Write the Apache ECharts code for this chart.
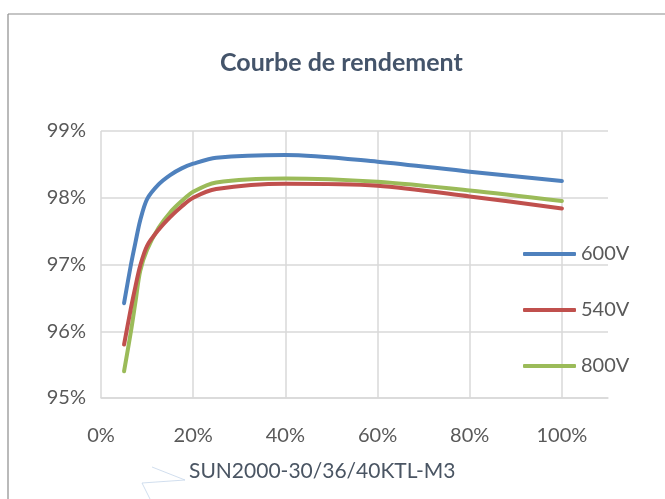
<!DOCTYPE html>
<html>
<head>
<meta charset="utf-8">
<script src="https://cdn.jsdelivr.net/npm/echarts@6/dist/echarts.min.js"></script>
<style>
html,body{margin:0;padding:0;background:#fff;}
#chart{width:665px;height:499px;}
</style>
</head>
<body>
<div id="chart"></div>
<script>
// Load (% of rated power)
const loadPct = [5, 6.5, 7.5, 8.5, 10, 12.5, 15, 17.5, 20, 25, 40, 60, 80, 100];
// Efficiency (%) per DC voltage
const eff600V = [96.42, 97.00, 97.34, 97.66, 97.98, 98.20, 98.34, 98.44, 98.51, 98.60, 98.64, 98.54, 98.39, 98.25];
const eff540V = [95.80, 96.35, 96.68, 96.98, 97.28, 97.52, 97.71, 97.87, 98.00, 98.13, 98.21, 98.18, 98.02, 97.84];
const eff800V = [95.40, 96.00, 96.45, 96.90, 97.22, 97.55, 97.78, 97.95, 98.09, 98.23, 98.29, 98.24, 98.11, 97.95];
const seriesNames = ['600V', '540V', '800V'];
const xTicks = [0, 20, 40, 60, 80, 100];
const yTicks = [95, 96, 97, 98, 99];
const titleText = 'Courbe de rendement';
const footText = 'SUN2000-30/36/40KTL-M3';

const colors = ['#4F81BD', '#C0504D', '#9BBB59'];
const FONT = 'Lato';
const pairs = (ys) => loadPct.map((x, i) => [x, ys[i]]);
const allSeries = [eff600V, eff540V, eff800V];

const chart = echarts.init(document.getElementById('chart'));
chart.setOption({
  animation: false,
  backgroundColor: '#fff',
  color: colors,
  title: {
    text: titleText,
    left: 220,
    top: 50,
    padding: 0,
    textStyle: {fontFamily: FONT, fontSize: 25, fontWeight: 'bold', color: '#44546A'}
  },
  grid: {left: 101, top: 131, right: 57, bottom: 101, containLabel: false},
  legend: {
    orient: 'vertical',
    left: 518,
    top: 239,
    icon: 'roundRect',
    itemWidth: 53,
    itemHeight: 4,
    itemGap: 36,
    textStyle: {fontFamily: FONT, fontSize: 20, color: '#595959'},
    data: seriesNames
  },
  xAxis: {
    type: 'value',
    min: 0,
    max: 110,
    interval: 20,
    axisLine: {show: true, lineStyle: {color: '#D9D9D9', width: 1.5}},
    axisTick: {show: false},
    axisLabel: {
      showMaxLabel: false,
      margin: 28,
      fontFamily: FONT, fontSize: 20, color: '#595959',
      formatter: (v) => xTicks.indexOf(v) >= 0 ? v + '%' : ''
    },
    splitLine: {show: true, showMaxLine: false, lineStyle: {color: '#D9D9D9', width: 1.5}}
  },
  yAxis: {
    type: 'value',
    min: 95,
    max: 99,
    interval: 1,
    axisLine: {show: false},
    axisTick: {show: false},
    axisLabel: {
      margin: 15,
      fontFamily: FONT, fontSize: 20, color: '#595959',
      formatter: (v) => yTicks.indexOf(v) >= 0 ? v + '%' : ''
    },
    splitLine: {show: true, lineStyle: {color: '#D9D9D9', width: 1.5}}
  },
  graphic: [
    {type: 'line', shape: {x1: 8, y1: 14, x2: 665, y2: 14}, style: {stroke: '#8C8C8C', lineWidth: 1.2}},
    {type: 'line', shape: {x1: 8, y1: 14, x2: 8, y2: 499}, style: {stroke: '#8C8C8C', lineWidth: 1.2}},
    {type: 'text', left: 189, top: 461, style: {text: footText, font: '21px Lato', fill: '#4A5563'}},
    {type: 'line', shape: {x1: 152, y1: 467, x2: 185, y2: 480}, style: {stroke: '#C5D5EA', lineWidth: 0.8}},
    {type: 'line', shape: {x1: 142, y1: 483, x2: 185, y2: 480}, style: {stroke: '#C5D5EA', lineWidth: 0.8}},
    {type: 'line', shape: {x1: 142, y1: 483, x2: 150, y2: 499}, style: {stroke: '#C5D5EA', lineWidth: 0.8}}
  ],
  series: seriesNames.map((n, i) => ({
    name: n,
    type: 'line',
    data: pairs(allSeries[i]),
    smooth: 0.3,
    symbol: 'none',
    lineStyle: {width: 4, color: colors[i], cap: 'round', join: 'round'},
    z: 3 - i
  }))
});
</script>
</body>
</html>
